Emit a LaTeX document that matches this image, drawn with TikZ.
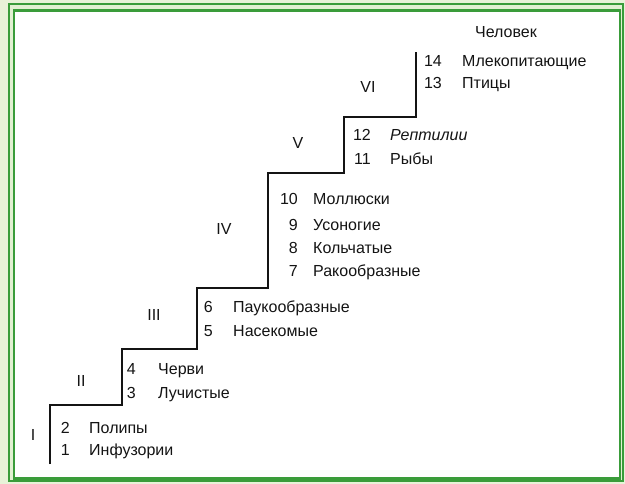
\documentclass[tikz,border=0pt]{standalone}
\usepackage{fontspec}
\setmainfont{Liberation Sans}
\definecolor{frameGreen}{HTML}{3A9C3A}
\definecolor{paleGreen}{HTML}{E8F2D8}
\definecolor{bandGreen}{HTML}{E2F0D2}
\definecolor{inkGray}{HTML}{141414}
\tikzset{
  lbltext/.style={inner sep=0pt,font=\fontsize{16}{18}\selectfont,text=inkGray},
  numtext/.style={lbltext,anchor=base east},
  taxtext/.style={lbltext,anchor=base west},
  romantext/.style={lbltext,anchor=center},
  stairline/.style={draw=inkGray,line width=1.7pt,line join=miter,line cap=butt}}
\begin{document}
\begin{tikzpicture}[x=1pt,y=-1pt]
% background and frame
\fill[paleGreen] (0,0) rectangle (625,484);
\useasboundingbox (0,0) rectangle (625,484);
\draw[frameGreen,line width=2pt,fill=bandGreen] (8.5,4) rectangle (623,481);
\draw[frameGreen,line width=2.5pt,fill=white] (14,10.5) rectangle (620,478.5);
% staircase
\coordinate (s0) at (50,464);
\coordinate (s1) at (50,405);
\coordinate (s2) at (122,405);
\coordinate (s3) at (122,349);
\coordinate (s4) at (197,349);
\coordinate (s5) at (197,288);
\coordinate (s6) at (268,288);
\coordinate (s7) at (268,173);
\coordinate (s8) at (344,173);
\coordinate (s9) at (344,117);
\coordinate (s10) at (416,117);
\coordinate (s11) at (416,52);
\draw[stairline] (s0) -- (s1) -- (s2) -- (s3) -- (s4) -- (s5) -- (s6) -- (s7) -- (s8) -- (s9) -- (s10) -- (s11);
% roman numerals
\node[romantext] (rI)   at (33,435) {I};
\node[romantext] (rII)  at (81,381) {II};
\node[romantext] (rIII) at (154,315) {III};
\node[romantext] (rIV)  at (224,229) {IV};
\node[romantext] (rV)   at (298,143) {V};
\node[romantext] (rVI)  at (368,87) {VI};
% step I
\node[numtext] (n2) at (70,434) {2};
\node[taxtext] (t2) at (89,434) {Полипы};
\node[numtext] (n1) at (70,456) {1};
\node[taxtext] (t1) at (89,456) {Инфузории};
% step II
\node[numtext] (n4) at (136,374) {4};
\node[taxtext] (t4) at (158,374) {Черви};
\node[numtext] (n3) at (136,399) {3};
\node[taxtext] (t3) at (158,399) {Лучистые};
% step III
\node[numtext] (n6) at (213,313) {6};
\node[taxtext] (t6) at (233,313) {Паукообразные};
\node[numtext] (n5) at (213,337) {5};
\node[taxtext] (t5) at (233,337) {Насекомые};
% step IV
\node[numtext] (n10) at (298,205) {10};
\node[taxtext] (t10) at (313,205) {Моллюски};
\node[numtext] (n9) at (298,231) {9};
\node[taxtext] (t9) at (313,231) {Усоногие};
\node[numtext] (n8) at (298,254) {8};
\node[taxtext] (t8) at (313,254) {Кольчатые};
\node[numtext] (n7) at (298,277) {7};
\node[taxtext] (t7) at (313,277) {Ракообразные};
% step V
\node[numtext] (n12) at (371,141) {12};
\node[taxtext,font=\fontsize{16}{18}\selectfont\itshape] (t12) at (390,141) {Рептилии};
\node[numtext] (n11) at (371,165) {11};
\node[taxtext] (t11) at (390,165) {Рыбы};
% step VI
\node[numtext] (n14) at (442,67) {14};
\node[taxtext] (t14) at (462,67) {Млекопитающие};
\node[numtext] (n13) at (442,89) {13};
\node[taxtext] (t13) at (462,89) {Птицы};
% top
\node[lbltext,anchor=base] (man) at (506,38) {Человек};
\end{tikzpicture}
\end{document}
